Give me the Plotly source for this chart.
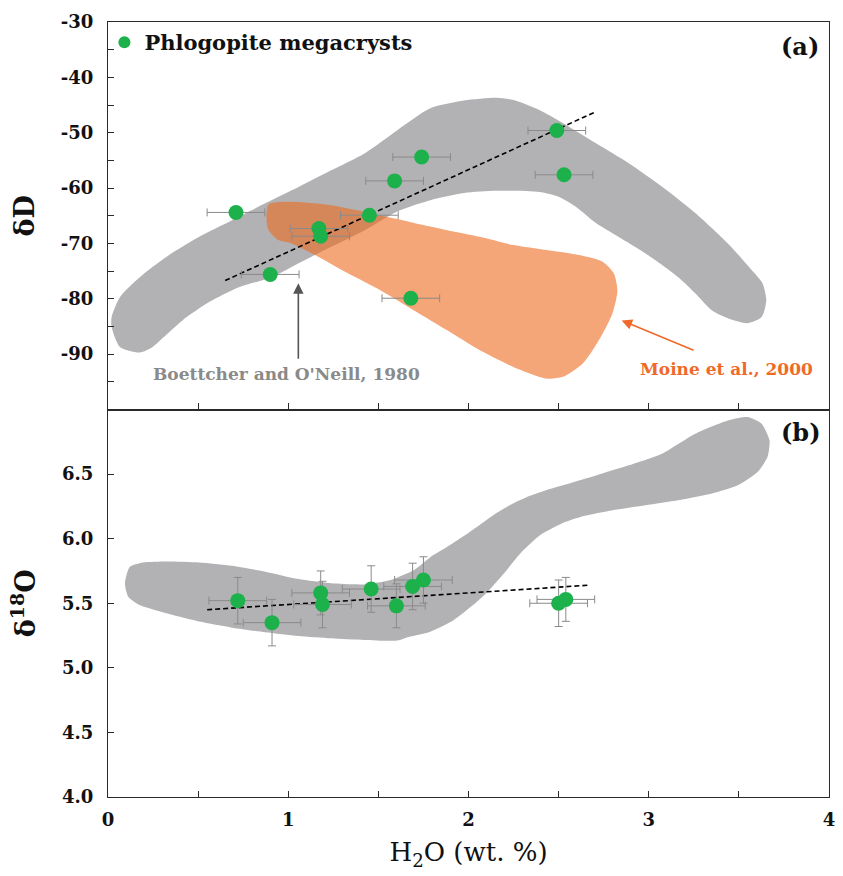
import plotly.graph_objects as go

# ---------------- data ----------------
h2o = [0.71, 0.90, 1.17, 1.18, 1.45, 1.59, 1.68, 1.74, 2.49, 2.53]
h2o_err = [0.16, 0.16, 0.16, 0.16, 0.16, 0.16, 0.16, 0.16, 0.16, 0.16]
dD = [-64.4, -75.6, -67.3, -68.7, -64.9, -58.7, -79.9, -54.4, -49.6, -57.6]

h2o_b = [0.72, 0.91, 1.18, 1.19, 1.46, 1.60, 1.69, 1.75, 2.50, 2.54]
d18O = [5.52, 5.35, 5.58, 5.49, 5.61, 5.48, 5.63, 5.68, 5.50, 5.53]
d18O_err = [0.18, 0.18, 0.17, 0.18, 0.18, 0.17, 0.18, 0.18, 0.18, 0.17]

# regression lines
fit_a_x = [0.65, 2.70]
fit_a_y = [-76.7, -46.3]
fit_b_x = [0.55, 2.67]
fit_b_y = [5.45, 5.64]

# Boettcher and O'Neill (1980) field, dD panel (outline)
boet_a_x = [0.020, 0.066, 0.176, 0.248, 0.303, 0.413, 0.561, 0.726, 0.908, 1.057, 1.238, 1.425,
            1.607, 1.788, 1.975, 2.157, 2.394, 2.503, 2.597, 2.707, 2.801, 2.982, 3.164, 3.258,
            3.351, 3.439, 3.549, 3.626, 3.652, 3.631, 3.571, 3.439, 3.258, 3.076, 2.889, 2.707,
            2.525, 2.393, 2.250, 2.157, 1.975, 1.788, 1.607, 1.425, 1.238, 1.057, 0.875, 0.688,
            0.506, 0.325, 0.176, 0.066, 0.020, 0.020]
boet_a_y = [-85.1, -88.7, -89.7, -88.7, -87.1, -83.9, -80.6, -77.9, -76.1, -73.6, -70.6, -67.6,
            -64.2, -62.2, -60.9, -60.5, -60.7, -61.6, -63.4, -66.3, -68.2, -71.8, -76.1, -79.0,
            -82.1, -83.5, -84.4, -83.3, -80.3, -77.2, -74.8, -70.0, -64.5, -59.8, -55.5, -51.9,
            -48.3, -45.9, -44.1, -43.7, -44.2, -45.6, -49.5, -53.7, -56.8, -59.8, -62.7, -65.8,
            -68.8, -72.4, -76.1, -79.7, -83.3, -85.1]

# Moine et al. (2000) field, dD panel (outline)
moine_x = [0.946, 0.891, 0.879, 0.891, 0.946, 1.018, 1.148, 1.331, 1.513, 1.698, 1.882, 2.063,
           2.249, 2.432, 2.524, 2.634, 2.723, 2.799, 2.826, 2.806, 2.744, 2.613, 2.432, 2.249,
           2.063, 1.882, 1.698, 1.607, 1.425, 1.238, 1.056, 0.946]
moine_y = [-62.5, -62.9, -65.2, -67.6, -69.4, -70.0, -72.1, -75.4, -78.5, -82.1, -85.7, -89.3,
           -92.3, -94.4, -94.1, -91.7, -87.5, -82.6, -78.5, -75.4, -73.3, -72.1, -71.2, -70.3,
           -68.8, -67.6, -66.3, -65.6, -64.3, -63.1, -62.5, -62.5]

# Boettcher and O'Neill (1980) field, d18O panel (outline)
boet_b_x = [0.094, 0.121, 0.193, 0.323, 0.506, 0.688, 0.873, 1.056, 1.238, 1.423, 1.568, 1.698,
            1.788, 1.880, 1.974, 2.066, 2.157, 2.250, 2.338, 2.430, 2.524, 2.707, 2.889, 3.074,
            3.258, 3.439, 3.549, 3.626, 3.670, 3.659, 3.604, 3.494, 3.351, 3.164, 2.982, 2.799,
            2.640, 2.520, 2.400, 2.290, 2.190, 2.100, 2.020, 1.919, 1.788, 1.662, 1.607, 1.423,
            1.238, 1.056, 0.873, 0.688, 0.506, 0.323, 0.176, 0.112, 0.094]
boet_b_y = [5.654, 5.782, 5.816, 5.824, 5.816, 5.790, 5.744, 5.687, 5.654, 5.646, 5.680, 5.757,
            5.857, 5.935, 6.020, 6.110, 6.200, 6.275, 6.330, 6.375, 6.413, 6.490, 6.568, 6.658,
            6.812, 6.915, 6.941, 6.890, 6.761, 6.632, 6.516, 6.413, 6.349, 6.297, 6.259, 6.220,
            6.175, 6.120, 6.030, 5.890, 5.720, 5.580, 5.480, 5.371, 5.280, 5.237, 5.211, 5.216,
            5.229, 5.247, 5.276, 5.311, 5.358, 5.422, 5.486, 5.551, 5.654]

x_tickvals = [0, 1, 2, 3, 4]
x_minor = [0.5, 1.5, 2.5, 3.5]
dD_tickvals = [-90, -80, -70, -60, -50, -40, -30]
dD_ticktext = ["-90", "-80", "-70", "-60", "-50", "-40", "-30"]
dD_minor = [-95, -85, -75, -65, -55, -45, -35]
d18O_tickvals = [4.0, 4.5, 5.0, 5.5, 6.0, 6.5]
d18O_ticktext = ["4.0", "4.5", "5.0", "5.5", "6.0", "6.5"]

# ---------------- styles ----------------
GREEN = "#1db14c"
GRAY_FIELD = "#b2b2b4"
ORANGE = "rgba(237,106,30,0.60)"
ORANGE_TXT = "#ef6a2a"
ERR = "#8a8a8a"
AX = "#2a2a2a"
SERIF = "DejaVu Serif"

fig = go.Figure()

# fields
fig.add_trace(go.Scatter(x=boet_a_x, y=boet_a_y, mode="lines", fill="toself", fillcolor=GRAY_FIELD,
                         line=dict(width=0, shape="spline", smoothing=0.7), hoverinfo="skip",
                         showlegend=False, xaxis="x", yaxis="y"))
fig.add_trace(go.Scatter(x=moine_x, y=moine_y, mode="lines", fill="toself", fillcolor=ORANGE,
                         line=dict(width=0, shape="spline", smoothing=0.7), hoverinfo="skip",
                         showlegend=False, xaxis="x", yaxis="y"))
fig.add_trace(go.Scatter(x=boet_b_x, y=boet_b_y, mode="lines", fill="toself", fillcolor=GRAY_FIELD,
                         line=dict(width=0, shape="spline", smoothing=0.6), hoverinfo="skip",
                         showlegend=False, xaxis="x2", yaxis="y2"))

# regression lines
fig.add_trace(go.Scatter(x=fit_a_x, y=fit_a_y, mode="lines",
                         line=dict(color="black", width=1.6, dash="5px,3px"),
                         showlegend=False, xaxis="x", yaxis="y"))
fig.add_trace(go.Scatter(x=fit_b_x, y=fit_b_y, mode="lines",
                         line=dict(color="black", width=1.6, dash="5px,3px"),
                         showlegend=False, xaxis="x2", yaxis="y2"))

# data points
fig.add_trace(go.Scatter(x=h2o, y=dD, mode="markers",
                         marker=dict(color=GREEN, size=15, line=dict(width=0)),
                         error_x=dict(type="data", array=h2o_err, color=ERR, thickness=1, width=4),
                         showlegend=False, xaxis="x", yaxis="y"))
fig.add_trace(go.Scatter(x=h2o_b, y=d18O, mode="markers",
                         marker=dict(color=GREEN, size=15, line=dict(width=0)),
                         error_x=dict(type="data", array=h2o_err, color=ERR, thickness=1, width=4),
                         error_y=dict(type="data", array=d18O_err, color=ERR, thickness=1, width=4),
                         showlegend=False, xaxis="x2", yaxis="y2"))
# legend entry
fig.add_trace(go.Scatter(x=[None], y=[None], mode="markers", name="Phlogopite megacrysts",
                         marker=dict(color=GREEN, size=13), showlegend=True,
                         xaxis="x", yaxis="y"))

common_axis = dict(showline=True, mirror=True, linecolor=AX, linewidth=1.3,
                   showgrid=False, zeroline=False, ticks="inside", ticklen=6,
                   tickcolor=AX, tickwidth=1.2, tickmode="array",
                   tickfont=dict(family=SERIF, size=18, color="#111", weight="bold"))


def minor(vals):
    return dict(tickmode="array", tickvals=vals, ticks="inside", ticklen=6,
                tickcolor=AX, tickwidth=1.2, showgrid=False)


fig.update_layout(
    width=843, height=876,
    margin=dict(l=108, r=8, t=22, b=79),
    plot_bgcolor="white", paper_bgcolor="white",
    showlegend=True,
    legend=dict(x=-0.005, y=1.0, xanchor="left", yanchor="top", bgcolor="rgba(0,0,0,0)",
                font=dict(family=SERIF, size=21, color="#111", weight="bold"),
                itemsizing="constant", tracegroupgap=0),
    xaxis=dict(domain=[0, 1], range=[0, 4], anchor="y", showticklabels=False,
               tickvals=x_tickvals, minor=minor(x_minor), **common_axis),
    yaxis=dict(domain=[0.5, 1], range=[-100, -30], anchor="x", tickvals=dD_tickvals,
               ticktext=dD_ticktext, ticklabelstandoff=10, minor=minor(dD_minor),
               title=dict(text="δD", font=dict(family=SERIF, size=27, color="#111", weight="bold"),
                          standoff=18),
               **common_axis),
    xaxis2=dict(domain=[0, 1], range=[0, 4], anchor="y2", tickvals=x_tickvals,
                ticklabelstandoff=6, minor=minor(x_minor),
                title=dict(text="H<sub>2</sub>O (wt. %)", font=dict(family=SERIF, size=26, color="#111"),
                           standoff=14),
                **common_axis),
    yaxis2=dict(domain=[0, 0.5], range=[4.0, 7.0], anchor="x2", tickvals=d18O_tickvals,
                ticktext=d18O_ticktext, ticklabelstandoff=10,
                title=dict(text="δ<sup>18</sup>O", font=dict(family=SERIF, size=27, color="#111", weight="bold"),
                           standoff=18),
                **common_axis),
)

# panel labels
fig.add_annotation(text="<b>(a)</b>", xref="paper", yref="paper", x=1, y=1, xanchor="right",
                   yanchor="top", xshift=-8, yshift=-8, showarrow=False,
                   font=dict(family=SERIF, size=24, color="#111"))
fig.add_annotation(text="<b>(b)</b>", xref="paper", yref="paper", x=1, y=0.5, xanchor="right",
                   yanchor="top", xshift=-6, yshift=-6, showarrow=False,
                   font=dict(family=SERIF, size=24, color="#111"))

# field labels and arrows
fig.add_annotation(text="<b>Boettcher and O'Neill, 1980</b>", x=0.99, y=-93.5, xref="x", yref="y",
                   showarrow=False, font=dict(family=SERIF, size=17, color="#8a8a8a"))
fig.add_annotation(text="", x=1.056, y=-77.2, ax=1.056, ay=-91.1, xref="x", yref="y",
                   axref="x", ayref="y", showarrow=True, arrowhead=2, arrowsize=1.3,
                   arrowwidth=1.6, arrowcolor="#555555")
fig.add_annotation(text="<b>Moine et al., 2000</b>", x=3.433, y=-92.6, xref="x", yref="y",
                   showarrow=False, font=dict(family=SERIF, size=17, color=ORANGE_TXT))
fig.add_annotation(text="", x=2.85, y=-83.9, ax=3.257, ay=-89.4, xref="x", yref="y",
                   axref="x", ayref="y", showarrow=True, arrowhead=2, arrowsize=1.3,
                   arrowwidth=1.6, arrowcolor=ORANGE_TXT)

fig.write_html("out.html")
